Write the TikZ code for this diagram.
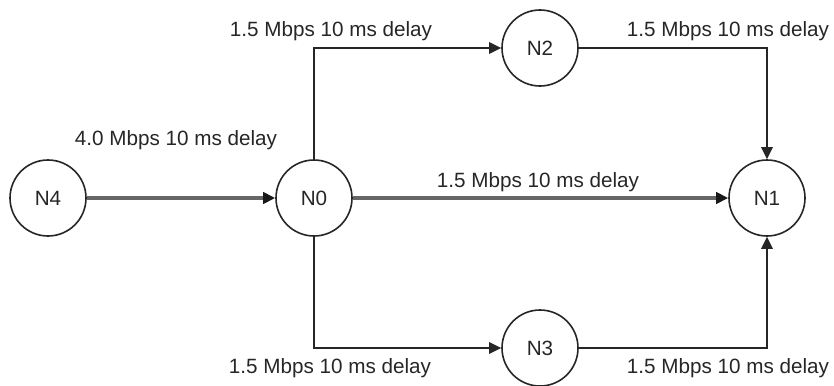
\documentclass[tikz,border=0pt]{standalone}
\usepackage{fontspec}
\setmainfont{Liberation Sans}
\usetikzlibrary{arrows.meta,positioning}

\begin{document}
\begin{tikzpicture}[
    x=0.75pt, y=-0.75pt,
    every node/.style={font=\fontsize{15.5}{18}\selectfont, text=black!85},
    host/.style={draw=black!85, circle, line width=1.2pt, fill=white,
                 minimum size=57pt, inner sep=0pt},
    rate/.style={anchor=base},
    link/.style={-{Triangle[length=9pt, width=8.5pt]}, line width=1.4pt, black!85},
    trunk/.style={-{Triangle[length=9pt, width=8.5pt, black!90]}, line width=2.4pt, black!60}
]
\useasboundingbox (0,0) rectangle (834,385);

% hosts
\node[host] (n4) at (48,198)  {N4};
\node[host] (n0) at (314,198) {N0};
\node[host] (n2) at (540,48)  {N2};
\node[host] (n3) at (540,348) {N3};
\node[host] (n1) at (767,198) {N1};

% corners of the upper and lower routes
\coordinate (c02) at (n0 |- n2);
\coordinate (c03) at (n0 |- n3);
\coordinate (c21) at (n1 |- n2);
\coordinate (c31) at (n1 |- n3);

% link labels
\node[rate] (l40) at (176,145) {4.0 Mbps 10 ms delay};
\node[rate] (l02) at (331,37)  {1.5 Mbps 10 ms delay};
\node[rate] (l03) at (330,373) {1.5 Mbps 10 ms delay};
\node[rate] (l01) at (538,187) {1.5 Mbps 10 ms delay};
\node[rate] (l21) at (728,37)  {1.5 Mbps 10 ms delay};
\node[rate] (l31) at (728,373) {1.5 Mbps 10 ms delay};

\draw[trunk] (n4) -- (n0);
\draw[trunk] (n0) -- (n1);
\draw[link] (n0.north) -- (c02) -- (n2.west);
\draw[link] (n0.south) -- (c03) -- (n3.west);
\draw[link] (n2.east) -- (c21) -- (n1.north);
\draw[link] (n3.east) -- (c31) -- (n1.south);
\end{tikzpicture}
\end{document}
